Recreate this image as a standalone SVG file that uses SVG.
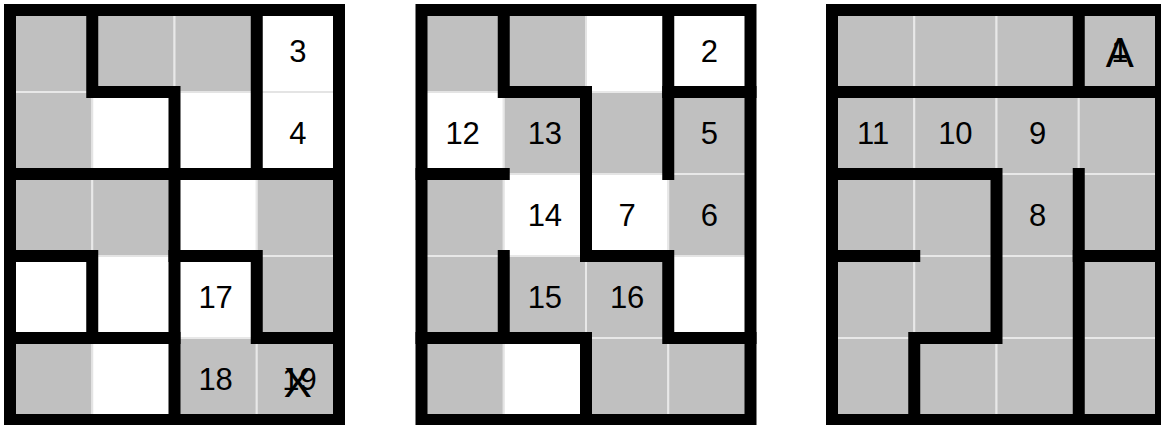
<svg xmlns="http://www.w3.org/2000/svg" width="1161" height="425" viewBox="0 0 1161 425">
<style>
.g{fill:#c0c0c0;stroke:#e8e8e8;stroke-width:2}
.w{fill:#ffffff;stroke:#e4e4e4;stroke-width:2}
.wall{fill:none;stroke:#000;stroke-width:12;stroke-linecap:square;stroke-linejoin:miter}
.t{font-family:"Liberation Sans",Arial,sans-serif;font-size:31px;fill:#000;text-anchor:middle}
.big{font-size:42px}
</style>
<rect width="1161" height="425" fill="#fff"/>
<defs>
<rect id="cell" width="82.25" height="82"/>
</defs>

<g id="grid1" transform="translate(10,10)">
<g id="grid1-cells">
<use href="#cell" x="0" y="0" class="g"/><use href="#cell" x="82.25" y="0" class="g"/><use href="#cell" x="164.5" y="0" class="g"/><use href="#cell" x="246.75" y="0" class="w"/>
<use href="#cell" x="0" y="82" class="g"/><use href="#cell" x="82.25" y="82" class="w"/><use href="#cell" x="164.5" y="82" class="w"/><use href="#cell" x="246.75" y="82" class="w"/>
<use href="#cell" x="0" y="164" class="g"/><use href="#cell" x="82.25" y="164" class="g"/><use href="#cell" x="164.5" y="164" class="w"/><use href="#cell" x="246.75" y="164" class="g"/>
<use href="#cell" x="0" y="246" class="w"/><use href="#cell" x="82.25" y="246" class="w"/><use href="#cell" x="164.5" y="246" class="w"/><use href="#cell" x="246.75" y="246" class="g"/>
<use href="#cell" x="0" y="328" class="g"/><use href="#cell" x="82.25" y="328" class="w"/><use href="#cell" x="164.5" y="328" class="g"/><use href="#cell" x="246.75" y="328" class="g"/>
</g>
<g id="grid1-walls" class="wall">
<rect x="0" y="0" width="329" height="410"/>
<path d="M82.25,0 V82 H164.5 V410"/>
<path d="M246.75,0 V164"/>
<path d="M0,164 H329"/>
<path d="M0,246 H82.25 V328"/>
<path d="M0,328 H164.5"/>
<path d="M164.5,246 H246.75 V328 H329"/>
</g>
<g id="grid1-labels" class="t">
<text x="287.875" y="52">3</text>
<text x="287.875" y="134">4</text>
<text x="205.625" y="298">17</text>
<text x="205.625" y="380">18</text>
<text x="289.5" y="380">19</text>
<text x="287.875" y="386.5" class="big">X</text>
</g>
</g>

<g id="grid2" transform="translate(421.5,10)">
<g id="grid2-cells">
<use href="#cell" x="0" y="0" class="g"/><use href="#cell" x="82.25" y="0" class="g"/><use href="#cell" x="164.5" y="0" class="w"/><use href="#cell" x="246.75" y="0" class="w"/>
<use href="#cell" x="0" y="82" class="w"/><use href="#cell" x="82.25" y="82" class="g"/><use href="#cell" x="164.5" y="82" class="g"/><use href="#cell" x="246.75" y="82" class="g"/>
<use href="#cell" x="0" y="164" class="g"/><use href="#cell" x="82.25" y="164" class="w"/><use href="#cell" x="164.5" y="164" class="w"/><use href="#cell" x="246.75" y="164" class="g"/>
<use href="#cell" x="0" y="246" class="g"/><use href="#cell" x="82.25" y="246" class="g"/><use href="#cell" x="164.5" y="246" class="g"/><use href="#cell" x="246.75" y="246" class="w"/>
<use href="#cell" x="0" y="328" class="g"/><use href="#cell" x="82.25" y="328" class="w"/><use href="#cell" x="164.5" y="328" class="g"/><use href="#cell" x="246.75" y="328" class="g"/>
</g>
<g id="grid2-walls" class="wall">
<rect x="0" y="0" width="329" height="410"/>
<path d="M82.25,0 V82 H164.5 V246 H246.75 V328 H329"/>
<path d="M246.75,0 V164"/>
<path d="M246.75,82 H329"/>
<path d="M0,164 H82.25"/>
<path d="M82.25,246 V328"/>
<path d="M0,328 H164.5 V410"/>
</g>
<g id="grid2-labels" class="t">
<text x="287.875" y="52">2</text>
<text x="41.125" y="134">12</text>
<text x="123.375" y="134">13</text>
<text x="287.875" y="134">5</text>
<text x="123.375" y="216">14</text>
<text x="205.625" y="216">7</text>
<text x="287.875" y="216">6</text>
<text x="123.375" y="298">15</text>
<text x="205.625" y="298">16</text>
</g>
</g>

<g id="grid3" transform="translate(832,10)">
<g id="grid3-cells" class="g">
<use href="#cell" x="0" y="0"/><use href="#cell" x="82.25" y="0"/><use href="#cell" x="164.5" y="0"/><use href="#cell" x="246.75" y="0"/>
<use href="#cell" x="0" y="82"/><use href="#cell" x="82.25" y="82"/><use href="#cell" x="164.5" y="82"/><use href="#cell" x="246.75" y="82"/>
<use href="#cell" x="0" y="164"/><use href="#cell" x="82.25" y="164"/><use href="#cell" x="164.5" y="164"/><use href="#cell" x="246.75" y="164"/>
<use href="#cell" x="0" y="246"/><use href="#cell" x="82.25" y="246"/><use href="#cell" x="164.5" y="246"/><use href="#cell" x="246.75" y="246"/>
<use href="#cell" x="0" y="328"/><use href="#cell" x="82.25" y="328"/><use href="#cell" x="164.5" y="328"/><use href="#cell" x="246.75" y="328"/>
</g>
<g id="grid3-walls" class="wall">
<rect x="0" y="0" width="329" height="410"/>
<path d="M246.75,0 V82"/>
<path d="M0,82 H329"/>
<path d="M0,164 H164.5 V328 H82.25 V410"/>
<path d="M246.75,164 V410"/>
<path d="M246.75,246 H329"/>
<path d="M0,246 H82.25"/>
</g>
<g id="grid3-labels" class="t">
<text x="287.875" y="56.5" class="big">A</text>
<text x="287.875" y="52">1</text>
<text x="41.125" y="134">11</text>
<text x="123.375" y="134">10</text>
<text x="205.625" y="134">9</text>
<text x="205.625" y="216">8</text>
</g>
</g>
</svg>
